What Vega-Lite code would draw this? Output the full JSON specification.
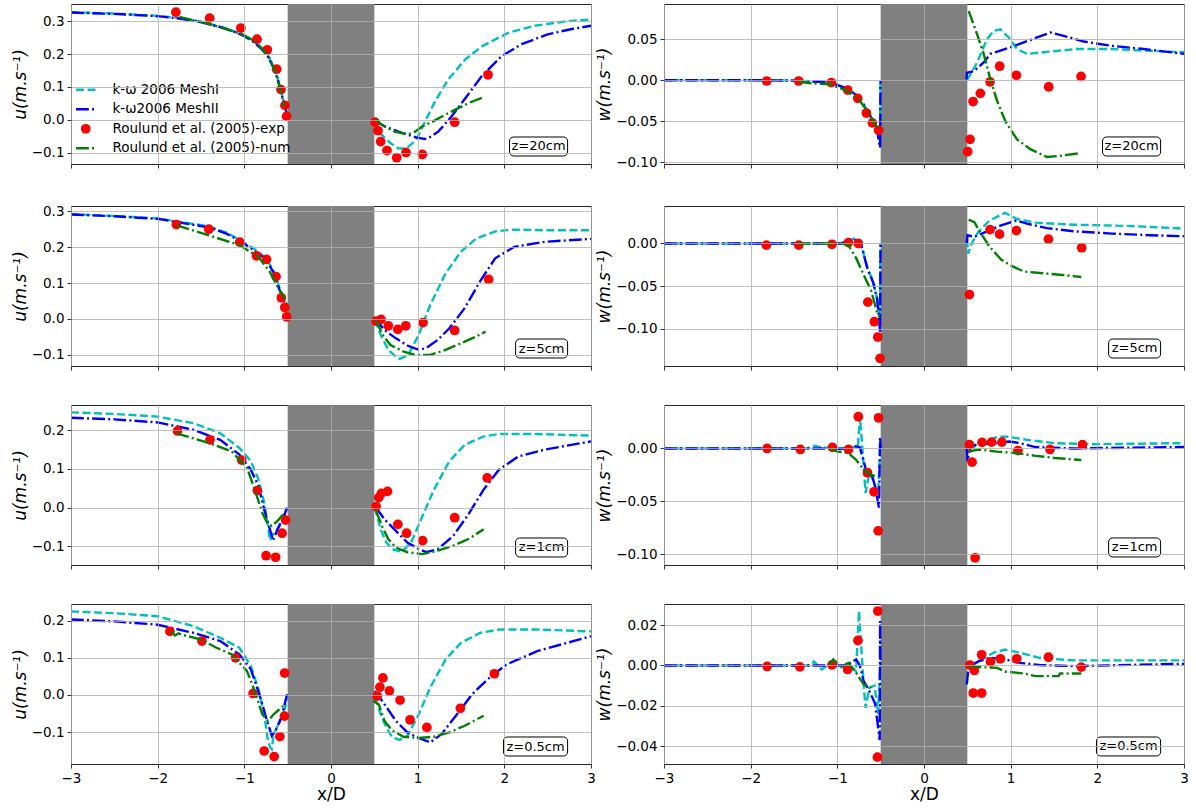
{
"$schema": "https://vega.github.io/schema/vega-lite/v6.json",
"background": "white",
"padding": {"left": 10, "top": 3, "right": 2, "bottom": 2},
"config": {
  "view": {"stroke": "#262626", "strokeWidth": 1},
  "font": "DejaVu Sans",
  "axis": {"grid": true, "gridColor": "#b0b0b0", "gridWidth": 0.8, "domain": false, "tickColor": "#000", "tickSize": 4, "tickWidth": 0.8, "labelFont": "DejaVu Sans", "labelFontSize": 13.5, "labelColor": "#000", "labelPadding": 3, "titleFont": "DejaVu Sans", "titleFontSize": 17, "titleFontWeight": "normal", "titleColor": "#000", "labelFlush": false, "labelOverlap": false}
},
"datasets": {
"u20": [
{"s":"m1","g":"L","x":-3,"y":0.327},{"s":"m1","g":"L","x":-2.5,"y":0.323},{"s":"m1","g":"L","x":-2,"y":0.316},{"s":"m1","g":"L","x":-1.75,"y":0.309},{"s":"m1","g":"L","x":-1.5,"y":0.298},{"s":"m1","g":"L","x":-1.25,"y":0.281},{"s":"m1","g":"L","x":-1.1,"y":0.267},{"s":"m1","g":"L","x":-1,"y":0.256},{"s":"m1","g":"L","x":-0.9,"y":0.24},{"s":"m1","g":"L","x":-0.8,"y":0.218},{"s":"m1","g":"L","x":-0.73,"y":0.196},{"s":"m1","g":"L","x":-0.67,"y":0.165},{"s":"m1","g":"L","x":-0.62,"y":0.13},{"s":"m1","g":"L","x":-0.58,"y":0.092},{"s":"m1","g":"L","x":-0.55,"y":0.06},{"s":"m1","g":"L","x":-0.52,"y":0.03},{"s":"m1","g":"L","x":-0.505,"y":0.015},
{"s":"m2","g":"L","x":-3,"y":0.326},{"s":"m2","g":"L","x":-2.5,"y":0.322},{"s":"m2","g":"L","x":-2,"y":0.315},{"s":"m2","g":"L","x":-1.75,"y":0.308},{"s":"m2","g":"L","x":-1.5,"y":0.297},{"s":"m2","g":"L","x":-1.25,"y":0.28},{"s":"m2","g":"L","x":-1.1,"y":0.266},{"s":"m2","g":"L","x":-1,"y":0.254},{"s":"m2","g":"L","x":-0.9,"y":0.238},{"s":"m2","g":"L","x":-0.8,"y":0.215},{"s":"m2","g":"L","x":-0.73,"y":0.193},{"s":"m2","g":"L","x":-0.67,"y":0.162},{"s":"m2","g":"L","x":-0.62,"y":0.127},{"s":"m2","g":"L","x":-0.58,"y":0.09},{"s":"m2","g":"L","x":-0.55,"y":0.058},{"s":"m2","g":"L","x":-0.52,"y":0.028},{"s":"m2","g":"L","x":-0.505,"y":0.014},
{"s":"m1","g":"R","x":0.505,"y":-0.005},{"s":"m1","g":"R","x":0.55,"y":-0.03},{"s":"m1","g":"R","x":0.585,"y":-0.045},{"s":"m1","g":"R","x":0.64,"y":-0.06},{"s":"m1","g":"R","x":0.7,"y":-0.073},{"s":"m1","g":"R","x":0.777,"y":-0.086},{"s":"m1","g":"R","x":0.85,"y":-0.087},{"s":"m1","g":"R","x":0.9,"y":-0.08},{"s":"m1","g":"R","x":0.95,"y":-0.068},{"s":"m1","g":"R","x":1,"y":-0.052},{"s":"m1","g":"R","x":1.085,"y":-0.005},{"s":"m1","g":"R","x":1.2,"y":0.056},{"s":"m1","g":"R","x":1.35,"y":0.122},{"s":"m1","g":"R","x":1.55,"y":0.184},{"s":"m1","g":"R","x":1.75,"y":0.225},{"s":"m1","g":"R","x":2.05,"y":0.265},{"s":"m1","g":"R","x":2.35,"y":0.286},{"s":"m1","g":"R","x":2.7,"y":0.299},{"s":"m1","g":"R","x":3,"y":0.305},
{"s":"m2","g":"R","x":0.505,"y":-0.002},{"s":"m2","g":"R","x":0.62,"y":-0.02},{"s":"m2","g":"R","x":0.78,"y":-0.036},{"s":"m2","g":"R","x":0.99,"y":-0.054},{"s":"m2","g":"R","x":1.085,"y":-0.058},{"s":"m2","g":"R","x":1.16,"y":-0.05},{"s":"m2","g":"R","x":1.24,"y":-0.035},{"s":"m2","g":"R","x":1.39,"y":0.01},{"s":"m2","g":"R","x":1.55,"y":0.066},{"s":"m2","g":"R","x":1.74,"y":0.133},{"s":"m2","g":"R","x":1.97,"y":0.194},{"s":"m2","g":"R","x":2.2,"y":0.23},{"s":"m2","g":"R","x":2.5,"y":0.26},{"s":"m2","g":"R","x":2.78,"y":0.276},{"s":"m2","g":"R","x":3,"y":0.286},
{"s":"num","g":"L","x":-1.75,"y":0.313},{"s":"num","g":"L","x":-1.4,"y":0.291},{"s":"num","g":"L","x":-1.04,"y":0.262},{"s":"num","g":"L","x":-0.88,"y":0.24},{"s":"num","g":"L","x":-0.72,"y":0.194},{"s":"num","g":"L","x":-0.63,"y":0.138},{"s":"num","g":"L","x":-0.57,"y":0.077},{"s":"num","g":"L","x":-0.54,"y":0.041},
{"s":"num","g":"R","x":0.52,"y":0.002},{"s":"num","g":"R","x":0.585,"y":-0.015},{"s":"num","g":"R","x":0.74,"y":-0.036},{"s":"num","g":"R","x":0.89,"y":-0.044},{"s":"num","g":"R","x":0.97,"y":-0.036},{"s":"num","g":"R","x":1.05,"y":-0.02},{"s":"num","g":"R","x":1.16,"y":-0.007},{"s":"num","g":"R","x":1.35,"y":0.02},{"s":"num","g":"R","x":1.585,"y":0.051},{"s":"num","g":"R","x":1.76,"y":0.069},
{"s":"exp","x":-1.79,"y":0.327},{"s":"exp","x":-1.4,"y":0.309},{"s":"exp","x":-1.04,"y":0.279},{"s":"exp","x":-0.854,"y":0.245},{"s":"exp","x":-0.735,"y":0.213},{"s":"exp","x":-0.627,"y":0.154},{"s":"exp","x":-0.577,"y":0.092},{"s":"exp","x":-0.531,"y":0.044},{"s":"exp","x":-0.512,"y":0.011},{"s":"exp","x":0.508,"y":-0.007},{"s":"exp","x":0.543,"y":-0.033},{"s":"exp","x":0.573,"y":-0.066},{"s":"exp","x":0.646,"y":-0.093},{"s":"exp","x":0.758,"y":-0.115},{"s":"exp","x":0.866,"y":-0.099},{"s":"exp","x":1.054,"y":-0.105},{"s":"exp","x":1.427,"y":-0.007},{"s":"exp","x":1.812,"y":0.137}
],
"w20": [
{"s":"m1","g":"L","x":-3,"y":0},{"s":"m1","g":"L","x":-2,"y":0},{"s":"m1","g":"L","x":-1.5,"y":-0.0005},{"s":"m1","g":"L","x":-1.2,"y":-0.002},{"s":"m1","g":"L","x":-1.08,"y":-0.003},{"s":"m1","g":"L","x":-0.89,"y":-0.01},{"s":"m1","g":"L","x":-0.77,"y":-0.019},{"s":"m1","g":"L","x":-0.7,"y":-0.029},{"s":"m1","g":"L","x":-0.62,"y":-0.0435},{"s":"m1","g":"L","x":-0.545,"y":-0.058},{"s":"m1","g":"L","x":-0.515,"y":-0.07},{"s":"m1","g":"L","x":-0.507,"y":-0.075},{"s":"m1","g":"L","x":-0.503,"y":0},
{"s":"m2","g":"L","x":-3,"y":0},{"s":"m2","g":"L","x":-2,"y":0},{"s":"m2","g":"L","x":-1.5,"y":-0.0005},{"s":"m2","g":"L","x":-1.2,"y":-0.002},{"s":"m2","g":"L","x":-1.08,"y":-0.003},{"s":"m2","g":"L","x":-0.89,"y":-0.01},{"s":"m2","g":"L","x":-0.77,"y":-0.019},{"s":"m2","g":"L","x":-0.7,"y":-0.029},{"s":"m2","g":"L","x":-0.62,"y":-0.0435},{"s":"m2","g":"L","x":-0.545,"y":-0.058},{"s":"m2","g":"L","x":-0.512,"y":-0.08},{"s":"m2","g":"L","x":-0.506,"y":-0.082},{"s":"m2","g":"L","x":-0.502,"y":-0.001},
{"s":"m1","g":"R","x":0.496,"y":0},{"s":"m1","g":"R","x":0.535,"y":0.007},{"s":"m1","g":"R","x":0.612,"y":0.0215},{"s":"m1","g":"R","x":0.727,"y":0.05},{"s":"m1","g":"R","x":0.804,"y":0.06},{"s":"m1","g":"R","x":0.881,"y":0.062},{"s":"m1","g":"R","x":0.977,"y":0.052},{"s":"m1","g":"R","x":1.073,"y":0.038},{"s":"m1","g":"R","x":1.189,"y":0.032},{"s":"m1","g":"R","x":1.381,"y":0.034},{"s":"m1","g":"R","x":1.766,"y":0.038},{"s":"m1","g":"R","x":2.15,"y":0.038},{"s":"m1","g":"R","x":2.535,"y":0.036},{"s":"m1","g":"R","x":3,"y":0.034},
{"s":"m2","g":"R","x":0.49,"y":0.001},{"s":"m2","g":"R","x":0.496,"y":0.009},{"s":"m2","g":"R","x":0.573,"y":0.011},{"s":"m2","g":"R","x":0.689,"y":0.0215},{"s":"m2","g":"R","x":0.766,"y":0.032},{"s":"m2","g":"R","x":0.881,"y":0.036},{"s":"m2","g":"R","x":0.996,"y":0.04},{"s":"m2","g":"R","x":1.15,"y":0.046},{"s":"m2","g":"R","x":1.304,"y":0.052},{"s":"m2","g":"R","x":1.458,"y":0.058},{"s":"m2","g":"R","x":1.612,"y":0.054},{"s":"m2","g":"R","x":1.843,"y":0.047},{"s":"m2","g":"R","x":2.15,"y":0.042},{"s":"m2","g":"R","x":2.535,"y":0.038},{"s":"m2","g":"R","x":3,"y":0.032},
{"s":"num","g":"L","x":-1.446,"y":-0.002},{"s":"num","g":"L","x":-1.27,"y":-0.004},{"s":"num","g":"L","x":-1.08,"y":-0.005},{"s":"num","g":"L","x":-0.89,"y":-0.013},{"s":"num","g":"L","x":-0.754,"y":-0.023},{"s":"num","g":"L","x":-0.658,"y":-0.037},{"s":"num","g":"L","x":-0.56,"y":-0.054},{"s":"num","g":"L","x":-0.523,"y":-0.06},
{"s":"num","g":"R","x":0.516,"y":0.084},{"s":"num","g":"R","x":0.612,"y":0.056},{"s":"num","g":"R","x":0.689,"y":0.032},{"s":"num","g":"R","x":0.766,"y":0.001},{"s":"num","g":"R","x":0.843,"y":-0.025},{"s":"num","g":"R","x":0.939,"y":-0.05},{"s":"num","g":"R","x":1.073,"y":-0.072},{"s":"num","g":"R","x":1.227,"y":-0.084},{"s":"num","g":"R","x":1.42,"y":-0.0935},{"s":"num","g":"R","x":1.573,"y":-0.092},{"s":"num","g":"R","x":1.785,"y":-0.089},
{"s":"exp","x":-1.815,"y":-0.001},{"s":"exp","x":-1.446,"y":-0.001},{"s":"exp","x":-1.07,"y":-0.003},{"s":"exp","x":-0.88,"y":-0.012},{"s":"exp","x":-0.765,"y":-0.022},{"s":"exp","x":-0.665,"y":-0.04},{"s":"exp","x":-0.596,"y":-0.052},{"s":"exp","x":-0.523,"y":-0.061},{"s":"exp","x":0.504,"y":-0.087},{"s":"exp","x":0.531,"y":-0.072},{"s":"exp","x":0.566,"y":-0.026},{"s":"exp","x":0.65,"y":-0.016},{"s":"exp","x":0.762,"y":-0.002},{"s":"exp","x":0.873,"y":0.017},{"s":"exp","x":1.066,"y":0.006},{"s":"exp","x":1.439,"y":-0.008},{"s":"exp","x":1.812,"y":0.0045}
],
"u5": [
{"s":"m1","g":"L","x":-3,"y":0.292},{"s":"m1","g":"L","x":-2.5,"y":0.287},{"s":"m1","g":"L","x":-2,"y":0.28},{"s":"m1","g":"L","x":-1.78,"y":0.272},{"s":"m1","g":"L","x":-1.41,"y":0.258},{"s":"m1","g":"L","x":-1.2,"y":0.24},{"s":"m1","g":"L","x":-1.057,"y":0.221},{"s":"m1","g":"L","x":-0.88,"y":0.194},{"s":"m1","g":"L","x":-0.75,"y":0.17},{"s":"m1","g":"L","x":-0.66,"y":0.133},{"s":"m1","g":"L","x":-0.6,"y":0.09},{"s":"m1","g":"L","x":-0.54,"y":0.055},{"s":"m1","g":"L","x":-0.507,"y":0.04},
{"s":"m2","g":"L","x":-3,"y":0.291},{"s":"m2","g":"L","x":-2.5,"y":0.286},{"s":"m2","g":"L","x":-2,"y":0.279},{"s":"m2","g":"L","x":-1.78,"y":0.27},{"s":"m2","g":"L","x":-1.41,"y":0.255},{"s":"m2","g":"L","x":-1.2,"y":0.237},{"s":"m2","g":"L","x":-1.057,"y":0.218},{"s":"m2","g":"L","x":-0.88,"y":0.19},{"s":"m2","g":"L","x":-0.75,"y":0.166},{"s":"m2","g":"L","x":-0.66,"y":0.128},{"s":"m2","g":"L","x":-0.6,"y":0.085},{"s":"m2","g":"L","x":-0.54,"y":0.05},{"s":"m2","g":"L","x":-0.507,"y":0.036},
{"s":"m1","g":"R","x":0.507,"y":-0.003},{"s":"m1","g":"R","x":0.573,"y":-0.044},{"s":"m1","g":"R","x":0.661,"y":-0.086},{"s":"m1","g":"R","x":0.75,"y":-0.105},{"s":"m1","g":"R","x":0.793,"y":-0.111},{"s":"m1","g":"R","x":0.85,"y":-0.105},{"s":"m1","g":"R","x":0.903,"y":-0.095},{"s":"m1","g":"R","x":1.013,"y":-0.044},{"s":"m1","g":"R","x":1.145,"y":0.039},{"s":"m1","g":"R","x":1.322,"y":0.127},{"s":"m1","g":"R","x":1.498,"y":0.187},{"s":"m1","g":"R","x":1.674,"y":0.224},{"s":"m1","g":"R","x":1.894,"y":0.244},{"s":"m1","g":"R","x":2.115,"y":0.249},{"s":"m1","g":"R","x":2.467,"y":0.247},{"s":"m1","g":"R","x":3,"y":0.247},
{"s":"m2","g":"R","x":0.507,"y":0.002},{"s":"m2","g":"R","x":0.617,"y":-0.031},{"s":"m2","g":"R","x":0.749,"y":-0.054},{"s":"m2","g":"R","x":0.881,"y":-0.074},{"s":"m2","g":"R","x":1.013,"y":-0.086},{"s":"m2","g":"R","x":1.1,"y":-0.081},{"s":"m2","g":"R","x":1.233,"y":-0.058},{"s":"m2","g":"R","x":1.366,"y":-0.026},{"s":"m2","g":"R","x":1.542,"y":0.03},{"s":"m2","g":"R","x":1.718,"y":0.104},{"s":"m2","g":"R","x":1.894,"y":0.169},{"s":"m2","g":"R","x":2.115,"y":0.201},{"s":"m2","g":"R","x":2.467,"y":0.215},{"s":"m2","g":"R","x":3,"y":0.223},
{"s":"num","g":"L","x":-1.78,"y":0.261},{"s":"num","g":"L","x":-1.41,"y":0.233},{"s":"num","g":"L","x":-1.057,"y":0.206},{"s":"num","g":"L","x":-0.837,"y":0.173},{"s":"num","g":"L","x":-0.705,"y":0.131},{"s":"num","g":"L","x":-0.617,"y":0.09},{"s":"num","g":"L","x":-0.529,"y":0.056},
{"s":"num","g":"R","x":0.52,"y":-0.003},{"s":"num","g":"R","x":0.595,"y":-0.044},{"s":"num","g":"R","x":0.683,"y":-0.072},{"s":"num","g":"R","x":0.837,"y":-0.091},{"s":"num","g":"R","x":0.969,"y":-0.1},{"s":"num","g":"R","x":1.145,"y":-0.1},{"s":"num","g":"R","x":1.322,"y":-0.086},{"s":"num","g":"R","x":1.498,"y":-0.068},{"s":"num","g":"R","x":1.674,"y":-0.049},{"s":"num","g":"R","x":1.784,"y":-0.035},
{"s":"exp","x":-1.784,"y":0.263},{"s":"exp","x":-1.41,"y":0.25},{"s":"exp","x":-1.053,"y":0.214},{"s":"exp","x":-0.859,"y":0.176},{"s":"exp","x":-0.744,"y":0.166},{"s":"exp","x":-0.634,"y":0.118},{"s":"exp","x":-0.573,"y":0.059},{"s":"exp","x":-0.533,"y":0.032},{"s":"exp","x":-0.511,"y":0.006},{"s":"exp","x":0.52,"y":-0.006},{"s":"exp","x":0.577,"y":-0.001},{"s":"exp","x":0.661,"y":-0.019},{"s":"exp","x":0.771,"y":-0.029},{"s":"exp","x":0.863,"y":-0.019},{"s":"exp","x":1.062,"y":-0.01},{"s":"exp","x":1.427,"y":-0.032},{"s":"exp","x":1.819,"y":0.11}
],
"w5": [
{"s":"m1","g":"L","x":-3,"y":0},{"s":"m1","g":"L","x":-1.5,"y":0},{"s":"m1","g":"L","x":-0.96,"y":0},{"s":"m1","g":"L","x":-0.872,"y":0.003},{"s":"m1","g":"L","x":-0.79,"y":0.0066},{"s":"m1","g":"L","x":-0.75,"y":0.003},{"s":"m1","g":"L","x":-0.718,"y":-0.004},{"s":"m1","g":"L","x":-0.652,"y":-0.029},{"s":"m1","g":"L","x":-0.586,"y":-0.045},{"s":"m1","g":"L","x":-0.542,"y":-0.064},{"s":"m1","g":"L","x":-0.52,"y":-0.078},{"s":"m1","g":"L","x":-0.51,"y":-0.085},{"s":"m1","g":"L","x":-0.503,"y":0},
{"s":"m2","g":"L","x":-3,"y":0},{"s":"m2","g":"L","x":-1.5,"y":0},{"s":"m2","g":"L","x":-0.96,"y":0},{"s":"m2","g":"L","x":-0.872,"y":0.003},{"s":"m2","g":"L","x":-0.784,"y":0.004},{"s":"m2","g":"L","x":-0.74,"y":0.002},{"s":"m2","g":"L","x":-0.718,"y":-0.004},{"s":"m2","g":"L","x":-0.652,"y":-0.03},{"s":"m2","g":"L","x":-0.586,"y":-0.046},{"s":"m2","g":"L","x":-0.542,"y":-0.065},{"s":"m2","g":"L","x":-0.52,"y":-0.087},{"s":"m2","g":"L","x":-0.507,"y":-0.105},{"s":"m2","g":"L","x":-0.501,"y":0},
{"s":"m1","g":"R","x":0.497,"y":0.005},{"s":"m1","g":"R","x":0.51,"y":-0.012},{"s":"m1","g":"R","x":0.55,"y":0},{"s":"m1","g":"R","x":0.626,"y":0.0136},{"s":"m1","g":"R","x":0.758,"y":0.027},{"s":"m1","g":"R","x":0.934,"y":0.036},{"s":"m1","g":"R","x":1.066,"y":0.029},{"s":"m1","g":"R","x":1.286,"y":0.0244},{"s":"m1","g":"R","x":1.727,"y":0.022},{"s":"m1","g":"R","x":2.388,"y":0.0205},{"s":"m1","g":"R","x":3,"y":0.0174},
{"s":"m2","g":"R","x":0.493,"y":0},{"s":"m2","g":"R","x":0.502,"y":0.0097},{"s":"m2","g":"R","x":0.581,"y":0.0078},{"s":"m2","g":"R","x":0.714,"y":0.0136},{"s":"m2","g":"R","x":0.89,"y":0.0213},{"s":"m2","g":"R","x":1.066,"y":0.027},{"s":"m2","g":"R","x":1.198,"y":0.023},{"s":"m2","g":"R","x":1.419,"y":0.018},{"s":"m2","g":"R","x":1.727,"y":0.0143},{"s":"m2","g":"R","x":2.167,"y":0.0116},{"s":"m2","g":"R","x":2.608,"y":0.0097},{"s":"m2","g":"R","x":3,"y":0.0085},
{"s":"num","g":"L","x":-1.454,"y":0},{"s":"num","g":"L","x":-0.96,"y":0},{"s":"num","g":"L","x":-0.872,"y":-0.002},{"s":"num","g":"L","x":-0.784,"y":-0.017},{"s":"num","g":"L","x":-0.696,"y":-0.037},{"s":"num","g":"L","x":-0.608,"y":-0.056},{"s":"num","g":"L","x":-0.542,"y":-0.081},{"s":"num","g":"L","x":-0.511,"y":-0.087},
{"s":"num","g":"R","x":0.515,"y":0.028},{"s":"num","g":"R","x":0.581,"y":0.025},{"s":"num","g":"R","x":0.67,"y":0.0097},{"s":"num","g":"R","x":0.758,"y":-0.004},{"s":"num","g":"R","x":0.89,"y":-0.019},{"s":"num","g":"R","x":1.022,"y":-0.027},{"s":"num","g":"R","x":1.154,"y":-0.033},{"s":"num","g":"R","x":1.374,"y":-0.035},{"s":"num","g":"R","x":1.595,"y":-0.037},{"s":"num","g":"R","x":1.815,"y":-0.0395},
{"s":"exp","x":-1.819,"y":-0.002},{"s":"exp","x":-1.445,"y":-0.002},{"s":"exp","x":-1.062,"y":-0.001},{"s":"exp","x":-0.872,"y":0.001},{"s":"exp","x":-0.758,"y":0},{"s":"exp","x":-0.648,"y":-0.069},{"s":"exp","x":-0.573,"y":-0.092},{"s":"exp","x":-0.533,"y":-0.11},{"s":"exp","x":-0.507,"y":-0.135},{"s":"exp","x":0.524,"y":-0.06},{"s":"exp","x":0.762,"y":0.0163},{"s":"exp","x":0.872,"y":0.0109},{"s":"exp","x":1.066,"y":0.0151},{"s":"exp","x":1.436,"y":0.005},{"s":"exp","x":1.819,"y":-0.005}
],
"u1": [
{"s":"m1","g":"L","x":-3,"y":0.246},{"s":"m1","g":"L","x":-2.5,"y":0.242},{"s":"m1","g":"L","x":-2,"y":0.235},{"s":"m1","g":"L","x":-1.586,"y":0.218},{"s":"m1","g":"L","x":-1.278,"y":0.192},{"s":"m1","g":"L","x":-1.057,"y":0.154},{"s":"m1","g":"L","x":-0.925,"y":0.12},{"s":"m1","g":"L","x":-0.837,"y":0.073},{"s":"m1","g":"L","x":-0.771,"y":0.013},{"s":"m1","g":"L","x":-0.727,"y":-0.047},{"s":"m1","g":"L","x":-0.705,"y":-0.085},{"s":"m1","g":"L","x":-0.683,"y":-0.075},{"s":"m1","g":"L","x":-0.661,"y":-0.064},{"s":"m1","g":"L","x":-0.617,"y":-0.056},{"s":"m1","g":"L","x":-0.551,"y":-0.026},{"s":"m1","g":"L","x":-0.507,"y":-0.004},
{"s":"m2","g":"L","x":-3,"y":0.232},{"s":"m2","g":"L","x":-2.5,"y":0.228},{"s":"m2","g":"L","x":-2,"y":0.22},{"s":"m2","g":"L","x":-1.586,"y":0.201},{"s":"m2","g":"L","x":-1.278,"y":0.175},{"s":"m2","g":"L","x":-1.057,"y":0.137},{"s":"m2","g":"L","x":-0.925,"y":0.098},{"s":"m2","g":"L","x":-0.837,"y":0.056},{"s":"m2","g":"L","x":-0.771,"y":-0.004},{"s":"m2","g":"L","x":-0.705,"y":-0.056},{"s":"m2","g":"L","x":-0.67,"y":-0.085},{"s":"m2","g":"L","x":-0.617,"y":-0.056},{"s":"m2","g":"L","x":-0.551,"y":-0.026},{"s":"m2","g":"L","x":-0.507,"y":0},
{"s":"m1","g":"R","x":0.507,"y":0},{"s":"m1","g":"R","x":0.573,"y":-0.056},{"s":"m1","g":"R","x":0.639,"y":-0.09},{"s":"m1","g":"R","x":0.705,"y":-0.107},{"s":"m1","g":"R","x":0.815,"y":-0.114},{"s":"m1","g":"R","x":0.925,"y":-0.09},{"s":"m1","g":"R","x":1.057,"y":-0.021},{"s":"m1","g":"R","x":1.189,"y":0.047},{"s":"m1","g":"R","x":1.366,"y":0.12},{"s":"m1","g":"R","x":1.542,"y":0.162},{"s":"m1","g":"R","x":1.762,"y":0.184},{"s":"m1","g":"R","x":1.938,"y":0.19},{"s":"m1","g":"R","x":2.379,"y":0.19},{"s":"m1","g":"R","x":3,"y":0.186},
{"s":"m2","g":"R","x":0.52,"y":0},{"s":"m2","g":"R","x":0.617,"y":-0.03},{"s":"m2","g":"R","x":0.749,"y":-0.06},{"s":"m2","g":"R","x":0.881,"y":-0.09},{"s":"m2","g":"R","x":1.013,"y":-0.107},{"s":"m2","g":"R","x":1.1,"y":-0.115},{"s":"m2","g":"R","x":1.233,"y":-0.107},{"s":"m2","g":"R","x":1.41,"y":-0.073},{"s":"m2","g":"R","x":1.586,"y":-0.017},{"s":"m2","g":"R","x":1.762,"y":0.047},{"s":"m2","g":"R","x":1.938,"y":0.098},{"s":"m2","g":"R","x":2.159,"y":0.132},{"s":"m2","g":"R","x":2.467,"y":0.15},{"s":"m2","g":"R","x":3,"y":0.171},
{"s":"num","g":"L","x":-1.784,"y":0.192},{"s":"num","g":"L","x":-1.41,"y":0.167},{"s":"num","g":"L","x":-1.145,"y":0.145},{"s":"num","g":"L","x":-0.969,"y":0.103},{"s":"num","g":"L","x":-0.881,"y":0.047},{"s":"num","g":"L","x":-0.793,"y":-0.013},{"s":"num","g":"L","x":-0.727,"y":-0.043},{"s":"num","g":"L","x":-0.683,"y":-0.047},{"s":"num","g":"L","x":-0.617,"y":-0.034},{"s":"num","g":"L","x":-0.551,"y":-0.017},
{"s":"num","g":"R","x":0.52,"y":-0.009},{"s":"num","g":"R","x":0.595,"y":-0.051},{"s":"num","g":"R","x":0.661,"y":-0.081},{"s":"num","g":"R","x":0.749,"y":-0.103},{"s":"num","g":"R","x":0.881,"y":-0.115},{"s":"num","g":"R","x":1.057,"y":-0.12},{"s":"num","g":"R","x":1.233,"y":-0.111},{"s":"num","g":"R","x":1.41,"y":-0.098},{"s":"num","g":"R","x":1.586,"y":-0.081},{"s":"num","g":"R","x":1.762,"y":-0.056},
{"s":"exp","x":-1.771,"y":0.198},{"s":"exp","x":-1.396,"y":0.175},{"s":"exp","x":-1.031,"y":0.123},{"s":"exp","x":-0.85,"y":0.044},{"s":"exp","x":-0.749,"y":-0.124},{"s":"exp","x":-0.639,"y":-0.128},{"s":"exp","x":-0.564,"y":-0.066},{"s":"exp","x":-0.524,"y":-0.032},{"s":"exp","x":0.52,"y":0.003},{"s":"exp","x":0.551,"y":0.026},{"s":"exp","x":0.581,"y":0.037},{"s":"exp","x":0.652,"y":0.042},{"s":"exp","x":0.771,"y":-0.043},{"s":"exp","x":0.872,"y":-0.066},{"s":"exp","x":1.057,"y":-0.085},{"s":"exp","x":1.427,"y":-0.026},{"s":"exp","x":1.802,"y":0.077}
],
"w1": [
{"s":"m1","g":"L","x":-3,"y":0},{"s":"m1","g":"L","x":-1.35,"y":0},{"s":"m1","g":"L","x":-1.27,"y":0.0025},{"s":"m1","g":"L","x":-1.18,"y":0.001},{"s":"m1","g":"L","x":-1,"y":0},{"s":"m1","g":"L","x":-0.85,"y":0.001},{"s":"m1","g":"L","x":-0.762,"y":0.002},{"s":"m1","g":"L","x":-0.74,"y":0.03},{"s":"m1","g":"L","x":-0.718,"y":0.008},{"s":"m1","g":"L","x":-0.674,"y":-0.042},{"s":"m1","g":"L","x":-0.63,"y":-0.023},{"s":"m1","g":"L","x":-0.586,"y":-0.03},{"s":"m1","g":"L","x":-0.542,"y":-0.042},{"s":"m1","g":"L","x":-0.525,"y":-0.035},{"s":"m1","g":"L","x":-0.505,"y":0},
{"s":"m2","g":"L","x":-3,"y":0},{"s":"m2","g":"L","x":-1.2,"y":0},{"s":"m2","g":"L","x":-0.96,"y":-0.0006},{"s":"m2","g":"L","x":-0.784,"y":0.002},{"s":"m2","g":"L","x":-0.74,"y":0.001},{"s":"m2","g":"L","x":-0.696,"y":-0.012},{"s":"m2","g":"L","x":-0.652,"y":-0.026},{"s":"m2","g":"L","x":-0.608,"y":-0.023},{"s":"m2","g":"L","x":-0.564,"y":-0.036},{"s":"m2","g":"L","x":-0.52,"y":-0.056},{"s":"m2","g":"L","x":-0.507,"y":0.011},{"s":"m2","g":"L","x":-0.5,"y":0},
{"s":"m1","g":"R","x":0.515,"y":-0.001},{"s":"m1","g":"R","x":0.626,"y":0.0035},{"s":"m1","g":"R","x":0.846,"y":0.011},{"s":"m1","g":"R","x":0.978,"y":0.011},{"s":"m1","g":"R","x":1.198,"y":0.008},{"s":"m1","g":"R","x":1.507,"y":0.005},{"s":"m1","g":"R","x":1.947,"y":0.004},{"s":"m1","g":"R","x":3,"y":0.005},
{"s":"m2","g":"R","x":0.493,"y":0},{"s":"m2","g":"R","x":0.502,"y":-0.012},{"s":"m2","g":"R","x":0.537,"y":0.002},{"s":"m2","g":"R","x":0.626,"y":0.004},{"s":"m2","g":"R","x":0.846,"y":0.005},{"s":"m2","g":"R","x":0.978,"y":0.0066},{"s":"m2","g":"R","x":1.11,"y":0.005},{"s":"m2","g":"R","x":1.286,"y":0.0013},{"s":"m2","g":"R","x":1.727,"y":0},{"s":"m2","g":"R","x":3,"y":0.0013},
{"s":"num","g":"L","x":-1.09,"y":0},{"s":"num","g":"L","x":-1,"y":-0.003},{"s":"num","g":"L","x":-0.872,"y":-0.0044},{"s":"num","g":"L","x":-0.784,"y":-0.0107},{"s":"num","g":"L","x":-0.696,"y":-0.02},{"s":"num","g":"L","x":-0.608,"y":-0.025},{"s":"num","g":"L","x":-0.529,"y":-0.027},
{"s":"num","g":"R","x":0.515,"y":-0.003},{"s":"num","g":"R","x":0.626,"y":-0.001},{"s":"num","g":"R","x":0.846,"y":-0.003},{"s":"num","g":"R","x":1.066,"y":-0.0044},{"s":"num","g":"R","x":1.286,"y":-0.007},{"s":"num","g":"R","x":1.507,"y":-0.009},{"s":"num","g":"R","x":1.815,"y":-0.011},
{"s":"exp","x":-1.81,"y":0},{"s":"exp","x":-1.427,"y":-0.001},{"s":"exp","x":-1.057,"y":0.001},{"s":"exp","x":-0.872,"y":-0.001},{"s":"exp","x":-0.758,"y":0.03},{"s":"exp","x":-0.652,"y":-0.023},{"s":"exp","x":-0.577,"y":-0.041},{"s":"exp","x":-0.524,"y":0.029},{"s":"exp","x":-0.529,"y":-0.078},{"s":"exp","x":0.524,"y":0.0035},{"s":"exp","x":0.555,"y":-0.013},{"s":"exp","x":0.59,"y":-0.1035},{"s":"exp","x":0.67,"y":0.0057},{"s":"exp","x":0.78,"y":0.006},{"s":"exp","x":0.899,"y":0.006},{"s":"exp","x":1.084,"y":-0.002},{"s":"exp","x":1.454,"y":-0.001},{"s":"exp","x":1.828,"y":0.0035}
],
"u05": [
{"s":"m1","g":"L","x":-3,"y":0.225},{"s":"m1","g":"L","x":-2.5,"y":0.22},{"s":"m1","g":"L","x":-2,"y":0.212},{"s":"m1","g":"L","x":-1.586,"y":0.185},{"s":"m1","g":"L","x":-1.278,"y":0.154},{"s":"m1","g":"L","x":-1.057,"y":0.127},{"s":"m1","g":"L","x":-0.925,"y":0.078},{"s":"m1","g":"L","x":-0.837,"y":0.015},{"s":"m1","g":"L","x":-0.771,"y":-0.052},{"s":"m1","g":"L","x":-0.727,"y":-0.123},{"s":"m1","g":"L","x":-0.705,"y":-0.14},{"s":"m1","g":"L","x":-0.683,"y":-0.146},{"s":"m1","g":"L","x":-0.661,"y":-0.105},{"s":"m1","g":"L","x":-0.595,"y":-0.074},{"s":"m1","g":"L","x":-0.529,"y":-0.034},{"s":"m1","g":"L","x":-0.507,"y":-0.007},
{"s":"m2","g":"L","x":-3,"y":0.203},{"s":"m2","g":"L","x":-2.5,"y":0.198},{"s":"m2","g":"L","x":-2,"y":0.189},{"s":"m2","g":"L","x":-1.586,"y":0.167},{"s":"m2","g":"L","x":-1.278,"y":0.145},{"s":"m2","g":"L","x":-1.057,"y":0.109},{"s":"m2","g":"L","x":-0.925,"y":0.069},{"s":"m2","g":"L","x":-0.815,"y":-0.007},{"s":"m2","g":"L","x":-0.749,"y":-0.061},{"s":"m2","g":"L","x":-0.683,"y":-0.11},{"s":"m2","g":"L","x":-0.639,"y":-0.096},{"s":"m2","g":"L","x":-0.573,"y":-0.061},{"s":"m2","g":"L","x":-0.507,"y":0.002},
{"s":"m1","g":"R","x":0.507,"y":-0.007},{"s":"m1","g":"R","x":0.573,"y":-0.052},{"s":"m1","g":"R","x":0.639,"y":-0.0875},{"s":"m1","g":"R","x":0.705,"y":-0.114},{"s":"m1","g":"R","x":0.793,"y":-0.121},{"s":"m1","g":"R","x":0.881,"y":-0.11},{"s":"m1","g":"R","x":1.013,"y":-0.052},{"s":"m1","g":"R","x":1.145,"y":0.02},{"s":"m1","g":"R","x":1.322,"y":0.0955},{"s":"m1","g":"R","x":1.498,"y":0.14},{"s":"m1","g":"R","x":1.718,"y":0.167},{"s":"m1","g":"R","x":1.938,"y":0.176},{"s":"m1","g":"R","x":2.379,"y":0.176},{"s":"m1","g":"R","x":3,"y":0.171},
{"s":"m2","g":"R","x":0.507,"y":0.011},{"s":"m2","g":"R","x":0.617,"y":-0.025},{"s":"m2","g":"R","x":0.749,"y":-0.07},{"s":"m2","g":"R","x":0.881,"y":-0.101},{"s":"m2","g":"R","x":1.013,"y":-0.116},{"s":"m2","g":"R","x":1.145,"y":-0.128},{"s":"m2","g":"R","x":1.278,"y":-0.105},{"s":"m2","g":"R","x":1.454,"y":-0.052},{"s":"m2","g":"R","x":1.63,"y":0.002},{"s":"m2","g":"R","x":1.806,"y":0.042},{"s":"m2","g":"R","x":2.026,"y":0.082},{"s":"m2","g":"R","x":2.379,"y":0.118},{"s":"m2","g":"R","x":3,"y":0.158},
{"s":"num","g":"L","x":-1.85,"y":0.171},{"s":"num","g":"L","x":-1.8,"y":0.16},{"s":"num","g":"L","x":-1.76,"y":0.166},{"s":"num","g":"L","x":-1.718,"y":0.162},{"s":"num","g":"L","x":-1.498,"y":0.149},{"s":"num","g":"L","x":-1.322,"y":0.127},{"s":"num","g":"L","x":-1.145,"y":0.109},{"s":"num","g":"L","x":-0.969,"y":0.064},{"s":"num","g":"L","x":-0.881,"y":0.011},{"s":"num","g":"L","x":-0.793,"y":-0.052},{"s":"num","g":"L","x":-0.727,"y":-0.07},{"s":"num","g":"L","x":-0.661,"y":-0.052},{"s":"num","g":"L","x":-0.573,"y":-0.034},{"s":"num","g":"L","x":-0.529,"y":-0.025},
{"s":"num","g":"R","x":0.485,"y":-0.016},{"s":"num","g":"R","x":0.551,"y":-0.025},{"s":"num","g":"R","x":0.617,"y":-0.07},{"s":"num","g":"R","x":0.705,"y":-0.096},{"s":"num","g":"R","x":0.837,"y":-0.1125},{"s":"num","g":"R","x":1.013,"y":-0.116},{"s":"num","g":"R","x":1.189,"y":-0.1125},{"s":"num","g":"R","x":1.366,"y":-0.101},{"s":"num","g":"R","x":1.542,"y":-0.083},{"s":"num","g":"R","x":1.762,"y":-0.056},
{"s":"exp","x":-1.859,"y":0.171},{"s":"exp","x":-1.489,"y":0.145},{"s":"exp","x":-1.101,"y":0.1},{"s":"exp","x":-0.899,"y":0.004},{"s":"exp","x":-0.771,"y":-0.151},{"s":"exp","x":-0.656,"y":-0.166},{"s":"exp","x":-0.59,"y":-0.112},{"s":"exp","x":-0.537,"y":-0.057},{"s":"exp","x":-0.535,"y":0.059},{"s":"exp","x":0.533,"y":-0.003},{"s":"exp","x":0.564,"y":0.021},{"s":"exp","x":0.599,"y":0.046},{"s":"exp","x":0.674,"y":0.011},{"s":"exp","x":0.797,"y":-0.014},{"s":"exp","x":0.912,"y":-0.067},{"s":"exp","x":1.106,"y":-0.0875},{"s":"exp","x":1.493,"y":-0.036},{"s":"exp","x":1.885,"y":0.057}
],
"w05": [
{"s":"m1","g":"L","x":-3,"y":0},{"s":"m1","g":"L","x":-1.3,"y":0},{"s":"m1","g":"L","x":-1.27,"y":0.002},{"s":"m1","g":"L","x":-1.18,"y":-0.002},{"s":"m1","g":"L","x":-1.1,"y":0.0005},{"s":"m1","g":"L","x":-0.96,"y":-0.001},{"s":"m1","g":"L","x":-0.872,"y":0.0005},{"s":"m1","g":"L","x":-0.784,"y":-0.003},{"s":"m1","g":"L","x":-0.75,"y":0.027},{"s":"m1","g":"L","x":-0.74,"y":0.02},{"s":"m1","g":"L","x":-0.696,"y":-0.0094},{"s":"m1","g":"L","x":-0.674,"y":-0.021},{"s":"m1","g":"L","x":-0.63,"y":-0.011},{"s":"m1","g":"L","x":-0.57,"y":-0.01},{"s":"m1","g":"L","x":-0.529,"y":-0.024},{"s":"m1","g":"L","x":-0.505,"y":0},
{"s":"m2","g":"L","x":-3,"y":0},{"s":"m2","g":"L","x":-1.2,"y":0},{"s":"m2","g":"L","x":-0.9,"y":0},{"s":"m2","g":"L","x":-0.784,"y":0.003},{"s":"m2","g":"L","x":-0.74,"y":0},{"s":"m2","g":"L","x":-0.696,"y":-0.0078},{"s":"m2","g":"L","x":-0.63,"y":-0.0127},{"s":"m2","g":"L","x":-0.564,"y":-0.019},{"s":"m2","g":"L","x":-0.529,"y":-0.031},{"s":"m2","g":"L","x":-0.511,"y":-0.037},{"s":"m2","g":"L","x":-0.507,"y":0.022},{"s":"m2","g":"L","x":-0.502,"y":0},
{"s":"m1","g":"R","x":0.515,"y":0},{"s":"m1","g":"R","x":0.626,"y":0.002},{"s":"m1","g":"R","x":0.8,"y":0.0063},{"s":"m1","g":"R","x":0.934,"y":0.0079},{"s":"m1","g":"R","x":1.11,"y":0.0063},{"s":"m1","g":"R","x":1.33,"y":0.0038},{"s":"m1","g":"R","x":1.727,"y":0.0025},{"s":"m1","g":"R","x":3,"y":0.0025},
{"s":"m2","g":"R","x":0.493,"y":-0.0094},{"s":"m2","g":"R","x":0.515,"y":-0.001},{"s":"m2","g":"R","x":0.626,"y":0.002},{"s":"m2","g":"R","x":0.758,"y":0.0038},{"s":"m2","g":"R","x":0.934,"y":0.003},{"s":"m2","g":"R","x":1.11,"y":0.0013},{"s":"m2","g":"R","x":1.33,"y":0.0002},{"s":"m2","g":"R","x":1.727,"y":-0.0003},{"s":"m2","g":"R","x":3,"y":0.0008},
{"s":"num","g":"L","x":-1.093,"y":0.0005},{"s":"num","g":"L","x":-1.048,"y":0.003},{"s":"num","g":"L","x":-0.96,"y":-0.0003},{"s":"num","g":"L","x":-0.872,"y":0.0013},{"s":"num","g":"L","x":-0.784,"y":-0.0036},{"s":"num","g":"L","x":-0.696,"y":-0.0094},{"s":"num","g":"L","x":-0.608,"y":-0.011},
{"s":"num","g":"R","x":0.515,"y":0},{"s":"num","g":"R","x":0.626,"y":-0.0008},{"s":"num","g":"R","x":0.846,"y":-0.0012},{"s":"num","g":"R","x":0.934,"y":-0.003},{"s":"num","g":"R","x":1.154,"y":-0.004},{"s":"num","g":"R","x":1.286,"y":-0.0053},{"s":"num","g":"R","x":1.551,"y":-0.0053},{"s":"num","g":"R","x":1.57,"y":-0.004},{"s":"num","g":"R","x":1.815,"y":-0.004},
{"s":"exp","x":-1.81,"y":-0.0005},{"s":"exp","x":-1.432,"y":-0.0007},{"s":"exp","x":-1.062,"y":0.0003},{"s":"exp","x":-0.881,"y":-0.002},{"s":"exp","x":-0.762,"y":0.0124},{"s":"exp","x":-0.533,"y":0.027},{"s":"exp","x":-0.537,"y":-0.0455},{"s":"exp","x":0.529,"y":0.0002},{"s":"exp","x":0.581,"y":-0.0025},{"s":"exp","x":0.568,"y":-0.0137},{"s":"exp","x":0.665,"y":-0.0137},{"s":"exp","x":0.665,"y":0.0053},{"s":"exp","x":0.767,"y":0.0018},{"s":"exp","x":0.881,"y":0.0033},{"s":"exp","x":1.07,"y":0.0033},{"s":"exp","x":1.436,"y":0.0041},{"s":"exp","x":1.815,"y":-0.0008}
]
},
"columns": 2,
"align": "each",
"spacing": {"row": 33, "column": -3},
"resolve": {"scale": {"color": "independent", "strokeDash": "independent"}, "legend": {"color": "independent", "strokeDash": "independent"}},
"concat": [
{"width": 520, "height": 160,
 "layer": [
  {"data": {"values": [{}]}, "mark": {"type": "rect", "color": "#808080"}, "encoding": {"x": {"datum": -0.5, "type": "quantitative", "scale": {"domain": [-3, 3], "nice": false}, "axis": {"values": [-3,-2,-1,0,1,2,3], "tickCount": 20, "labels": false, "title": null, "labelFlush": false, "zindex": 1}}, "x2": {"datum": 0.5}}},
  {"data": {"name": "u20"}, "transform": [{"filter": "datum.s == 'm1' || datum.s == 'm2'"}], "mark": {"type": "line", "strokeWidth": 2.4},
   "encoding": {"x": {"field": "x", "type": "quantitative", "scale": {"domain": [-3, 3], "nice": false}},
    "y": {"field": "y", "type": "quantitative", "scale": {"domain": [-0.134, 0.352], "nice": false, "zero": false}, "axis": {"values": [-0.1,0,0.1,0.2,0.3], "tickCount": 10, "format": ".1f", "title": "u(m.s⁻¹)", "titleFontStyle": "italic", "minExtent": 40, "maxExtent": 40, "titlePadding": 2, "labelOverlap": false, "zindex": 1}},
    "color": {"field": "s", "type": "nominal", "scale": {"domain": ["m1","m2","exp","num"], "range": ["#00bfbf","#0000ff","#ff0000","#008000"]},
      "legend": {"orient": "none", "legendX": 8, "legendY": 79, "title": null, "symbolType": "stroke", "symbolSize": 380, "symbolStrokeWidth": 2.4, "labelFont": "DejaVu Sans", "labelFontSize": 13.5, "labelColor": "#000", "labelLimit": 400, "rowPadding": 4.5, "labelOffset": 20,
       "labelExpr": "datum.value == 'm1' ? 'k-ω 2006 MeshI' : datum.value == 'm2' ? 'k-ω2006 MeshII' : datum.value == 'exp' ? 'Roulund et al. (2005)-exp' : 'Roulund et al. (2005)-num'",
       "encode": {"symbols": {"update": {"shape": {"signal": "datum.value == 'exp' ? 'circle' : 'stroke'"}, "size": {"signal": "datum.value == 'exp' ? 95 : 380"}, "fill": {"signal": "datum.value == 'exp' ? '#ff0000' : 'transparent'"}, "strokeDash": {"signal": "datum.value == 'm1' ? [8,3.5] : datum.value == 'exp' ? [] : [12.8,3.2,2,3.2]"}, "strokeWidth": {"signal": "datum.value == 'exp' ? 0 : 2.4"}, "opacity": {"value": 1}}}}}},
    "strokeDash": {"field": "s", "type": "nominal", "scale": {"domain": ["m1","m2","num"], "range": [[8,3.5],[12.8,3.2,2,3.2],[12.8,3.2,2,3.2]]}, "legend": null},
    "detail": {"field": "g"}}},
  {"data": {"name": "u20"}, "transform": [{"filter": "datum.s == 'exp'"}], "mark": {"type": "circle", "size": 95, "opacity": 1}, "encoding": {"x": {"field": "x", "type": "quantitative"}, "y": {"field": "y", "type": "quantitative", "axis": {"values": [-0.1,0,0.1,0.2,0.3], "tickCount": 10, "format": ".1f", "title": "u(m.s⁻¹)", "titleFontStyle": "italic", "minExtent": 40, "maxExtent": 40, "titlePadding": 2, "labelOverlap": false, "zindex": 1}}, "color": {"field": "s", "type": "nominal", "legend": null}}},
  {"data": {"name": "u20"}, "transform": [{"filter": "datum.s == 'num'"}], "mark": {"type": "line", "strokeWidth": 2.4}, "encoding": {"x": {"field": "x", "type": "quantitative"}, "y": {"field": "y", "type": "quantitative", "axis": {"values": [-0.1,0,0.1,0.2,0.3], "tickCount": 10, "format": ".1f", "title": "u(m.s⁻¹)", "titleFontStyle": "italic", "minExtent": 40, "maxExtent": 40, "titlePadding": 2, "labelOverlap": false, "zindex": 1}}, "color": {"field": "s", "type": "nominal", "legend": null}, "strokeDash": {"field": "s", "type": "nominal", "legend": null}, "detail": {"field": "g"}}},
  {"data": {"values": [{}]}, "mark": {"type": "rect", "fill": "white", "stroke": "black", "strokeWidth": 1, "cornerRadius": 4}, "encoding": {"x": {"datum": 2.06, "type": "quantitative"}, "x2": {"datum": 2.73}, "y": {"datum": -0.1097, "type": "quantitative"}, "y2": {"datum": -0.052}}},
  {"data": {"values": [{"label": "z=20cm"}]}, "mark": {"type": "text", "font": "DejaVu Sans", "fontSize": 13, "color": "black", "align": "center", "baseline": "middle"}, "encoding": {"x": {"datum": 2.395, "type": "quantitative"}, "y": {"datum": -0.0808, "type": "quantitative"}, "text": {"field": "label"}}}
 ]},
{"width": 520, "height": 160,
 "layer": [
  {"data": {"values": [{}]}, "mark": {"type": "rect", "color": "#808080"}, "encoding": {"x": {"datum": -0.5, "type": "quantitative", "scale": {"domain": [-3, 3], "nice": false}, "axis": {"values": [-3,-2,-1,0,1,2,3], "tickCount": 20, "labels": false, "title": null, "labelFlush": false, "zindex": 1}}, "x2": {"datum": 0.5}}},
  {"data": {"name": "w20"}, "transform": [{"filter": "datum.s == 'm1' || datum.s == 'm2'"}], "mark": {"type": "line", "strokeWidth": 2.4},
   "encoding": {"x": {"field": "x", "type": "quantitative", "scale": {"domain": [-3, 3], "nice": false}},
    "y": {"field": "y", "type": "quantitative", "scale": {"domain": [-0.102, 0.0927], "nice": false, "zero": false}, "axis": {"values": [-0.1,-0.05,0,0.05], "tickCount": 10, "format": ".2f", "title": "w(m.s⁻¹)", "titleFontStyle": "italic", "minExtent": 49, "maxExtent": 49, "titlePadding": 2, "labelOverlap": false, "zindex": 1}},
    "color": {"field": "s", "type": "nominal", "scale": {"domain": ["m1","m2","exp","num"], "range": ["#00bfbf","#0000ff","#ff0000","#008000"]}, "legend": null},
    "strokeDash": {"field": "s", "type": "nominal", "scale": {"domain": ["m1","m2","num"], "range": [[8,3.5],[12.8,3.2,2,3.2],[12.8,3.2,2,3.2]]}, "legend": null}, "detail": {"field": "g"}}},
  {"data": {"name": "w20"}, "transform": [{"filter": "datum.s == 'exp'"}], "mark": {"type": "circle", "size": 95, "opacity": 1}, "encoding": {"x": {"field": "x", "type": "quantitative"}, "y": {"field": "y", "type": "quantitative", "axis": {"values": [-0.1,-0.05,0,0.05], "tickCount": 10, "format": ".2f", "title": "w(m.s⁻¹)", "titleFontStyle": "italic", "minExtent": 49, "maxExtent": 49, "titlePadding": 2, "labelOverlap": false, "zindex": 1}}, "color": {"field": "s", "type": "nominal", "legend": null}}},
  {"data": {"name": "w20"}, "transform": [{"filter": "datum.s == 'num'"}], "mark": {"type": "line", "strokeWidth": 2.4}, "encoding": {"x": {"field": "x", "type": "quantitative"}, "y": {"field": "y", "type": "quantitative", "axis": {"values": [-0.1,-0.05,0,0.05], "tickCount": 10, "format": ".2f", "title": "w(m.s⁻¹)", "titleFontStyle": "italic", "minExtent": 49, "maxExtent": 49, "titlePadding": 2, "labelOverlap": false, "zindex": 1}}, "color": {"field": "s", "type": "nominal", "legend": null}, "strokeDash": {"field": "s", "type": "nominal", "legend": null}, "detail": {"field": "g"}}},
  {"data": {"values": [{}]}, "mark": {"type": "rect", "fill": "white", "stroke": "black", "strokeWidth": 1, "cornerRadius": 4}, "encoding": {"x": {"datum": 2.06, "type": "quantitative"}, "x2": {"datum": 2.73}, "y": {"datum": -0.0923, "type": "quantitative"}, "y2": {"datum": -0.0691}}},
  {"data": {"values": [{"label": "z=20cm"}]}, "mark": {"type": "text", "font": "DejaVu Sans", "fontSize": 13, "color": "black", "align": "center", "baseline": "middle"}, "encoding": {"x": {"datum": 2.395, "type": "quantitative"}, "y": {"datum": -0.0807, "type": "quantitative"}, "text": {"field": "label"}}}
 ]},
{"width": 520, "height": 160,
 "layer": [
  {"data": {"values": [{}]}, "mark": {"type": "rect", "color": "#808080"}, "encoding": {"x": {"datum": -0.5, "type": "quantitative", "scale": {"domain": [-3, 3], "nice": false}, "axis": {"values": [-3,-2,-1,0,1,2,3], "tickCount": 20, "labels": false, "title": null, "labelFlush": false, "zindex": 1}}, "x2": {"datum": 0.5}}},
  {"data": {"name": "u5"}, "transform": [{"filter": "datum.s == 'm1' || datum.s == 'm2'"}], "mark": {"type": "line", "strokeWidth": 2.4},
   "encoding": {"x": {"field": "x", "type": "quantitative", "scale": {"domain": [-3, 3], "nice": false}},
    "y": {"field": "y", "type": "quantitative", "scale": {"domain": [-0.131, 0.3147], "nice": false, "zero": false}, "axis": {"values": [-0.1,0,0.1,0.2,0.3], "tickCount": 10, "format": ".1f", "title": "u(m.s⁻¹)", "titleFontStyle": "italic", "minExtent": 40, "maxExtent": 40, "titlePadding": 2, "labelOverlap": false, "zindex": 1}},
    "color": {"field": "s", "type": "nominal", "scale": {"domain": ["m1","m2","exp","num"], "range": ["#00bfbf","#0000ff","#ff0000","#008000"]}, "legend": null},
    "strokeDash": {"field": "s", "type": "nominal", "scale": {"domain": ["m1","m2","num"], "range": [[8,3.5],[12.8,3.2,2,3.2],[12.8,3.2,2,3.2]]}, "legend": null}, "detail": {"field": "g"}}},
  {"data": {"name": "u5"}, "transform": [{"filter": "datum.s == 'exp'"}], "mark": {"type": "circle", "size": 95, "opacity": 1}, "encoding": {"x": {"field": "x", "type": "quantitative"}, "y": {"field": "y", "type": "quantitative", "axis": {"values": [-0.1,0,0.1,0.2,0.3], "tickCount": 10, "format": ".1f", "title": "u(m.s⁻¹)", "titleFontStyle": "italic", "minExtent": 40, "maxExtent": 40, "titlePadding": 2, "labelOverlap": false, "zindex": 1}}, "color": {"field": "s", "type": "nominal", "legend": null}}},
  {"data": {"name": "u5"}, "transform": [{"filter": "datum.s == 'num'"}], "mark": {"type": "line", "strokeWidth": 2.4}, "encoding": {"x": {"field": "x", "type": "quantitative"}, "y": {"field": "y", "type": "quantitative", "axis": {"values": [-0.1,0,0.1,0.2,0.3], "tickCount": 10, "format": ".1f", "title": "u(m.s⁻¹)", "titleFontStyle": "italic", "minExtent": 40, "maxExtent": 40, "titlePadding": 2, "labelOverlap": false, "zindex": 1}}, "color": {"field": "s", "type": "nominal", "legend": null}, "strokeDash": {"field": "s", "type": "nominal", "legend": null}, "detail": {"field": "g"}}},
  {"data": {"values": [{}]}, "mark": {"type": "rect", "fill": "white", "stroke": "black", "strokeWidth": 1, "cornerRadius": 4}, "encoding": {"x": {"datum": 2.13, "type": "quantitative"}, "x2": {"datum": 2.73}, "y": {"datum": -0.1087, "type": "quantitative"}, "y2": {"datum": -0.0558}}},
  {"data": {"values": [{"label": "z=5cm"}]}, "mark": {"type": "text", "font": "DejaVu Sans", "fontSize": 13, "color": "black", "align": "center", "baseline": "middle"}, "encoding": {"x": {"datum": 2.43, "type": "quantitative"}, "y": {"datum": -0.0823, "type": "quantitative"}, "text": {"field": "label"}}}
 ]},
{"width": 520, "height": 160,
 "layer": [
  {"data": {"values": [{}]}, "mark": {"type": "rect", "color": "#808080"}, "encoding": {"x": {"datum": -0.5, "type": "quantitative", "scale": {"domain": [-3, 3], "nice": false}, "axis": {"values": [-3,-2,-1,0,1,2,3], "tickCount": 20, "labels": false, "title": null, "labelFlush": false, "zindex": 1}}, "x2": {"datum": 0.5}}},
  {"data": {"name": "w5"}, "transform": [{"filter": "datum.s == 'm1' || datum.s == 'm2'"}], "mark": {"type": "line", "strokeWidth": 2.4},
   "encoding": {"x": {"field": "x", "type": "quantitative", "scale": {"domain": [-3, 3], "nice": false}},
    "y": {"field": "y", "type": "quantitative", "scale": {"domain": [-0.144, 0.044], "nice": false, "zero": false}, "axis": {"values": [-0.1,-0.05,0], "tickCount": 10, "format": ".2f", "title": "w(m.s⁻¹)", "titleFontStyle": "italic", "minExtent": 49, "maxExtent": 49, "titlePadding": 2, "labelOverlap": false, "zindex": 1}},
    "color": {"field": "s", "type": "nominal", "scale": {"domain": ["m1","m2","exp","num"], "range": ["#00bfbf","#0000ff","#ff0000","#008000"]}, "legend": null},
    "strokeDash": {"field": "s", "type": "nominal", "scale": {"domain": ["m1","m2","num"], "range": [[8,3.5],[12.8,3.2,2,3.2],[12.8,3.2,2,3.2]]}, "legend": null}, "detail": {"field": "g"}}},
  {"data": {"name": "w5"}, "transform": [{"filter": "datum.s == 'exp'"}], "mark": {"type": "circle", "size": 95, "opacity": 1}, "encoding": {"x": {"field": "x", "type": "quantitative"}, "y": {"field": "y", "type": "quantitative", "axis": {"values": [-0.1,-0.05,0], "tickCount": 10, "format": ".2f", "title": "w(m.s⁻¹)", "titleFontStyle": "italic", "minExtent": 49, "maxExtent": 49, "titlePadding": 2, "labelOverlap": false, "zindex": 1}}, "color": {"field": "s", "type": "nominal", "legend": null}}},
  {"data": {"name": "w5"}, "transform": [{"filter": "datum.s == 'num'"}], "mark": {"type": "line", "strokeWidth": 2.4}, "encoding": {"x": {"field": "x", "type": "quantitative"}, "y": {"field": "y", "type": "quantitative", "axis": {"values": [-0.1,-0.05,0], "tickCount": 10, "format": ".2f", "title": "w(m.s⁻¹)", "titleFontStyle": "italic", "minExtent": 49, "maxExtent": 49, "titlePadding": 2, "labelOverlap": false, "zindex": 1}}, "color": {"field": "s", "type": "nominal", "legend": null}, "strokeDash": {"field": "s", "type": "nominal", "legend": null}, "detail": {"field": "g"}}},
  {"data": {"values": [{}]}, "mark": {"type": "rect", "fill": "white", "stroke": "black", "strokeWidth": 1, "cornerRadius": 4}, "encoding": {"x": {"datum": 2.13, "type": "quantitative"}, "x2": {"datum": 2.73}, "y": {"datum": -0.1346, "type": "quantitative"}, "y2": {"datum": -0.1123}}},
  {"data": {"values": [{"label": "z=5cm"}]}, "mark": {"type": "text", "font": "DejaVu Sans", "fontSize": 13, "color": "black", "align": "center", "baseline": "middle"}, "encoding": {"x": {"datum": 2.43, "type": "quantitative"}, "y": {"datum": -0.1234, "type": "quantitative"}, "text": {"field": "label"}}}
 ]},
{"width": 520, "height": 160,
 "layer": [
  {"data": {"values": [{}]}, "mark": {"type": "rect", "color": "#808080"}, "encoding": {"x": {"datum": -0.5, "type": "quantitative", "scale": {"domain": [-3, 3], "nice": false}, "axis": {"values": [-3,-2,-1,0,1,2,3], "tickCount": 20, "labels": false, "title": null, "labelFlush": false, "zindex": 1}}, "x2": {"datum": 0.5}}},
  {"data": {"name": "u1"}, "transform": [{"filter": "datum.s == 'm1' || datum.s == 'm2'"}], "mark": {"type": "line", "strokeWidth": 2.4},
   "encoding": {"x": {"field": "x", "type": "quantitative", "scale": {"domain": [-3, 3], "nice": false}},
    "y": {"field": "y", "type": "quantitative", "scale": {"domain": [-0.148, 0.265], "nice": false, "zero": false}, "axis": {"values": [-0.1,0,0.1,0.2], "tickCount": 10, "format": ".1f", "title": "u(m.s⁻¹)", "titleFontStyle": "italic", "minExtent": 40, "maxExtent": 40, "titlePadding": 2, "labelOverlap": false, "zindex": 1}},
    "color": {"field": "s", "type": "nominal", "scale": {"domain": ["m1","m2","exp","num"], "range": ["#00bfbf","#0000ff","#ff0000","#008000"]}, "legend": null},
    "strokeDash": {"field": "s", "type": "nominal", "scale": {"domain": ["m1","m2","num"], "range": [[8,3.5],[12.8,3.2,2,3.2],[12.8,3.2,2,3.2]]}, "legend": null}, "detail": {"field": "g"}}},
  {"data": {"name": "u1"}, "transform": [{"filter": "datum.s == 'exp'"}], "mark": {"type": "circle", "size": 95, "opacity": 1}, "encoding": {"x": {"field": "x", "type": "quantitative"}, "y": {"field": "y", "type": "quantitative", "axis": {"values": [-0.1,0,0.1,0.2], "tickCount": 10, "format": ".1f", "title": "u(m.s⁻¹)", "titleFontStyle": "italic", "minExtent": 40, "maxExtent": 40, "titlePadding": 2, "labelOverlap": false, "zindex": 1}}, "color": {"field": "s", "type": "nominal", "legend": null}}},
  {"data": {"name": "u1"}, "transform": [{"filter": "datum.s == 'num'"}], "mark": {"type": "line", "strokeWidth": 2.4}, "encoding": {"x": {"field": "x", "type": "quantitative"}, "y": {"field": "y", "type": "quantitative", "axis": {"values": [-0.1,0,0.1,0.2], "tickCount": 10, "format": ".1f", "title": "u(m.s⁻¹)", "titleFontStyle": "italic", "minExtent": 40, "maxExtent": 40, "titlePadding": 2, "labelOverlap": false, "zindex": 1}}, "color": {"field": "s", "type": "nominal", "legend": null}, "strokeDash": {"field": "s", "type": "nominal", "legend": null}, "detail": {"field": "g"}}},
  {"data": {"values": [{}]}, "mark": {"type": "rect", "fill": "white", "stroke": "black", "strokeWidth": 1, "cornerRadius": 4}, "encoding": {"x": {"datum": 2.13, "type": "quantitative"}, "x2": {"datum": 2.73}, "y": {"datum": -0.1273, "type": "quantitative"}, "y2": {"datum": -0.0783}}},
  {"data": {"values": [{"label": "z=1cm"}]}, "mark": {"type": "text", "font": "DejaVu Sans", "fontSize": 13, "color": "black", "align": "center", "baseline": "middle"}, "encoding": {"x": {"datum": 2.43, "type": "quantitative"}, "y": {"datum": -0.1028, "type": "quantitative"}, "text": {"field": "label"}}}
 ]},
{"width": 520, "height": 160,
 "layer": [
  {"data": {"values": [{}]}, "mark": {"type": "rect", "color": "#808080"}, "encoding": {"x": {"datum": -0.5, "type": "quantitative", "scale": {"domain": [-3, 3], "nice": false}, "axis": {"values": [-3,-2,-1,0,1,2,3], "tickCount": 20, "labels": false, "title": null, "labelFlush": false, "zindex": 1}}, "x2": {"datum": 0.5}}},
  {"data": {"name": "w1"}, "transform": [{"filter": "datum.s == 'm1' || datum.s == 'm2'"}], "mark": {"type": "line", "strokeWidth": 2.4},
   "encoding": {"x": {"field": "x", "type": "quantitative", "scale": {"domain": [-3, 3], "nice": false}},
    "y": {"field": "y", "type": "quantitative", "scale": {"domain": [-0.1103, 0.0411], "nice": false, "zero": false}, "axis": {"values": [-0.1,-0.05,0], "tickCount": 10, "format": ".2f", "title": "w(m.s⁻¹)", "titleFontStyle": "italic", "minExtent": 49, "maxExtent": 49, "titlePadding": 2, "labelOverlap": false, "zindex": 1}},
    "color": {"field": "s", "type": "nominal", "scale": {"domain": ["m1","m2","exp","num"], "range": ["#00bfbf","#0000ff","#ff0000","#008000"]}, "legend": null},
    "strokeDash": {"field": "s", "type": "nominal", "scale": {"domain": ["m1","m2","num"], "range": [[8,3.5],[12.8,3.2,2,3.2],[12.8,3.2,2,3.2]]}, "legend": null}, "detail": {"field": "g"}}},
  {"data": {"name": "w1"}, "transform": [{"filter": "datum.s == 'exp'"}], "mark": {"type": "circle", "size": 95, "opacity": 1}, "encoding": {"x": {"field": "x", "type": "quantitative"}, "y": {"field": "y", "type": "quantitative", "axis": {"values": [-0.1,-0.05,0], "tickCount": 10, "format": ".2f", "title": "w(m.s⁻¹)", "titleFontStyle": "italic", "minExtent": 49, "maxExtent": 49, "titlePadding": 2, "labelOverlap": false, "zindex": 1}}, "color": {"field": "s", "type": "nominal", "legend": null}}},
  {"data": {"name": "w1"}, "transform": [{"filter": "datum.s == 'num'"}], "mark": {"type": "line", "strokeWidth": 2.4}, "encoding": {"x": {"field": "x", "type": "quantitative"}, "y": {"field": "y", "type": "quantitative", "axis": {"values": [-0.1,-0.05,0], "tickCount": 10, "format": ".2f", "title": "w(m.s⁻¹)", "titleFontStyle": "italic", "minExtent": 49, "maxExtent": 49, "titlePadding": 2, "labelOverlap": false, "zindex": 1}}, "color": {"field": "s", "type": "nominal", "legend": null}, "strokeDash": {"field": "s", "type": "nominal", "legend": null}, "detail": {"field": "g"}}},
  {"data": {"values": [{}]}, "mark": {"type": "rect", "fill": "white", "stroke": "black", "strokeWidth": 1, "cornerRadius": 4}, "encoding": {"x": {"datum": 2.13, "type": "quantitative"}, "x2": {"datum": 2.73}, "y": {"datum": -0.1027, "type": "quantitative"}, "y2": {"datum": -0.0847}}},
  {"data": {"values": [{"label": "z=1cm"}]}, "mark": {"type": "text", "font": "DejaVu Sans", "fontSize": 13, "color": "black", "align": "center", "baseline": "middle"}, "encoding": {"x": {"datum": 2.43, "type": "quantitative"}, "y": {"datum": -0.0937, "type": "quantitative"}, "text": {"field": "label"}}}
 ]},
{"width": 520, "height": 160,
 "layer": [
  {"data": {"values": [{}]}, "mark": {"type": "rect", "color": "#808080"}, "encoding": {"x": {"datum": -0.5, "type": "quantitative", "scale": {"domain": [-3, 3], "nice": false}, "axis": {"values": [-3,-2,-1,0,1,2,3], "tickCount": 20, "format": "d", "title": "x/D", "titlePadding": 2, "labelFlush": false, "zindex": 1}}, "x2": {"datum": 0.5}}},
  {"data": {"name": "u05"}, "transform": [{"filter": "datum.s == 'm1' || datum.s == 'm2'"}], "mark": {"type": "line", "strokeWidth": 2.4},
   "encoding": {"x": {"field": "x", "type": "quantitative", "scale": {"domain": [-3, 3], "nice": false}},
    "y": {"field": "y", "type": "quantitative", "scale": {"domain": [-0.186, 0.2448], "nice": false, "zero": false}, "axis": {"values": [-0.1,0,0.1,0.2], "tickCount": 10, "format": ".1f", "title": "u(m.s⁻¹)", "titleFontStyle": "italic", "minExtent": 40, "maxExtent": 40, "titlePadding": 2, "labelOverlap": false, "zindex": 1}},
    "color": {"field": "s", "type": "nominal", "scale": {"domain": ["m1","m2","exp","num"], "range": ["#00bfbf","#0000ff","#ff0000","#008000"]}, "legend": null},
    "strokeDash": {"field": "s", "type": "nominal", "scale": {"domain": ["m1","m2","num"], "range": [[8,3.5],[12.8,3.2,2,3.2],[12.8,3.2,2,3.2]]}, "legend": null}, "detail": {"field": "g"}}},
  {"data": {"name": "u05"}, "transform": [{"filter": "datum.s == 'exp'"}], "mark": {"type": "circle", "size": 95, "opacity": 1}, "encoding": {"x": {"field": "x", "type": "quantitative"}, "y": {"field": "y", "type": "quantitative", "axis": {"values": [-0.1,0,0.1,0.2], "tickCount": 10, "format": ".1f", "title": "u(m.s⁻¹)", "titleFontStyle": "italic", "minExtent": 40, "maxExtent": 40, "titlePadding": 2, "labelOverlap": false, "zindex": 1}}, "color": {"field": "s", "type": "nominal", "legend": null}}},
  {"data": {"name": "u05"}, "transform": [{"filter": "datum.s == 'num'"}], "mark": {"type": "line", "strokeWidth": 2.4}, "encoding": {"x": {"field": "x", "type": "quantitative"}, "y": {"field": "y", "type": "quantitative", "axis": {"values": [-0.1,0,0.1,0.2], "tickCount": 10, "format": ".1f", "title": "u(m.s⁻¹)", "titleFontStyle": "italic", "minExtent": 40, "maxExtent": 40, "titlePadding": 2, "labelOverlap": false, "zindex": 1}}, "color": {"field": "s", "type": "nominal", "legend": null}, "strokeDash": {"field": "s", "type": "nominal", "legend": null}, "detail": {"field": "g"}}},
  {"data": {"values": [{}]}, "mark": {"type": "rect", "fill": "white", "stroke": "black", "strokeWidth": 1, "cornerRadius": 4}, "encoding": {"x": {"datum": 1.99, "type": "quantitative"}, "x2": {"datum": 2.73}, "y": {"datum": -0.1645, "type": "quantitative"}, "y2": {"datum": -0.1133}}},
  {"data": {"values": [{"label": "z=0.5cm"}]}, "mark": {"type": "text", "font": "DejaVu Sans", "fontSize": 13, "color": "black", "align": "center", "baseline": "middle"}, "encoding": {"x": {"datum": 2.36, "type": "quantitative"}, "y": {"datum": -0.1389, "type": "quantitative"}, "text": {"field": "label"}}}
 ]},
{"width": 520, "height": 160,
 "layer": [
  {"data": {"values": [{}]}, "mark": {"type": "rect", "color": "#808080"}, "encoding": {"x": {"datum": -0.5, "type": "quantitative", "scale": {"domain": [-3, 3], "nice": false}, "axis": {"values": [-3,-2,-1,0,1,2,3], "tickCount": 20, "format": "d", "title": "x/D", "titlePadding": 2, "labelFlush": false, "zindex": 1}}, "x2": {"datum": 0.5}}},
  {"data": {"name": "w05"}, "transform": [{"filter": "datum.s == 'm1' || datum.s == 'm2'"}], "mark": {"type": "line", "strokeWidth": 2.4},
   "encoding": {"x": {"field": "x", "type": "quantitative", "scale": {"domain": [-3, 3], "nice": false}},
    "y": {"field": "y", "type": "quantitative", "scale": {"domain": [-0.0489, 0.0305], "nice": false, "zero": false}, "axis": {"values": [-0.04,-0.02,0,0.02], "tickCount": 10, "format": ".2f", "title": "w(m.s⁻¹)", "titleFontStyle": "italic", "minExtent": 49, "maxExtent": 49, "titlePadding": 2, "labelOverlap": false, "zindex": 1}},
    "color": {"field": "s", "type": "nominal", "scale": {"domain": ["m1","m2","exp","num"], "range": ["#00bfbf","#0000ff","#ff0000","#008000"]}, "legend": null},
    "strokeDash": {"field": "s", "type": "nominal", "scale": {"domain": ["m1","m2","num"], "range": [[8,3.5],[12.8,3.2,2,3.2],[12.8,3.2,2,3.2]]}, "legend": null}, "detail": {"field": "g"}}},
  {"data": {"name": "w05"}, "transform": [{"filter": "datum.s == 'exp'"}], "mark": {"type": "circle", "size": 95, "opacity": 1}, "encoding": {"x": {"field": "x", "type": "quantitative"}, "y": {"field": "y", "type": "quantitative", "axis": {"values": [-0.04,-0.02,0,0.02], "tickCount": 10, "format": ".2f", "title": "w(m.s⁻¹)", "titleFontStyle": "italic", "minExtent": 49, "maxExtent": 49, "titlePadding": 2, "labelOverlap": false, "zindex": 1}}, "color": {"field": "s", "type": "nominal", "legend": null}}},
  {"data": {"name": "w05"}, "transform": [{"filter": "datum.s == 'num'"}], "mark": {"type": "line", "strokeWidth": 2.4}, "encoding": {"x": {"field": "x", "type": "quantitative"}, "y": {"field": "y", "type": "quantitative", "axis": {"values": [-0.04,-0.02,0,0.02], "tickCount": 10, "format": ".2f", "title": "w(m.s⁻¹)", "titleFontStyle": "italic", "minExtent": 49, "maxExtent": 49, "titlePadding": 2, "labelOverlap": false, "zindex": 1}}, "color": {"field": "s", "type": "nominal", "legend": null}, "strokeDash": {"field": "s", "type": "nominal", "legend": null}, "detail": {"field": "g"}}},
  {"data": {"values": [{}]}, "mark": {"type": "rect", "fill": "white", "stroke": "black", "strokeWidth": 1, "cornerRadius": 4}, "encoding": {"x": {"datum": 1.99, "type": "quantitative"}, "x2": {"datum": 2.73}, "y": {"datum": -0.0449, "type": "quantitative"}, "y2": {"datum": -0.0355}}},
  {"data": {"values": [{"label": "z=0.5cm"}]}, "mark": {"type": "text", "font": "DejaVu Sans", "fontSize": 13, "color": "black", "align": "center", "baseline": "middle"}, "encoding": {"x": {"datum": 2.36, "type": "quantitative"}, "y": {"datum": -0.0402, "type": "quantitative"}, "text": {"field": "label"}}}
 ]}
]
}
